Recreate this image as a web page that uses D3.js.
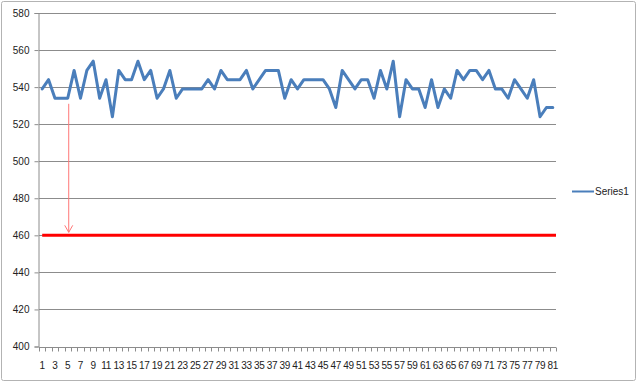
<!DOCTYPE html>
<html>
<head>
<meta charset="utf-8">
<script src="https://cdn.jsdelivr.net/npm/d3@7"></script>
<style>
  html, body { margin: 0; padding: 0; background: #fff; }
  svg { display: block; font-family: "Liberation Sans", Arial, sans-serif; }
</style>
</head>
<body>
<div id="chart"></div>
<script>
// category labels 1..81
const categories = [
  1, 2, 3, 4, 5, 6, 7, 8, 9, 10, 11, 12, 13, 14, 15, 16, 17, 18, 19, 20,
  21, 22, 23, 24, 25, 26, 27, 28, 29, 30, 31, 32, 33, 34, 35, 36, 37, 38, 39, 40,
  41, 42, 43, 44, 45, 46, 47, 48, 49, 50, 51, 52, 53, 54, 55, 56, 57, 58, 59, 60,
  61, 62, 63, 64, 65, 66, 67, 68, 69, 70, 71, 72, 73, 74, 75, 76, 77, 78, 79, 80, 81
];

// Series1 values
const series1 = [
  539, 544, 534, 534, 534, 549, 534, 549, 554, 534,
  544, 524, 549, 544, 544, 554, 544, 549, 534, 539,
  549, 534, 539, 539, 539, 539, 544, 539, 549, 544,
  544, 544, 549, 539, 544, 549, 549, 549, 534, 544,
  539, 544, 544, 544, 544, 539, 529, 549, 544, 539,
  544, 544, 534, 549, 539, 554, 524, 544, 539, 539,
  529, 544, 529, 539, 534, 549, 544, 549, 549, 544,
  549, 539, 539, 534, 544, 539, 534, 544, 524, 529, 529
];

const yTicks = [400, 420, 440, 460, 480, 500, 520, 540, 560, 580];

// red annotation: limit line and arrow
const limitValue = 460;
const arrowCategory = 5;
const arrowFrom = 531;

const width = 640, height = 384;
const margin = { left: 39, right: 84, top: 13, bottom: 37.5 };

const svg = d3.select('#chart').append('svg')
  .attr('width', width)
  .attr('height', height);

// chart area border
svg.append('rect')
  .attr('x', 1.5).attr('y', 1.5)
  .attr('width', 634).attr('height', 379)
  .attr('rx', 2)
  .attr('fill', '#fff')
  .attr('stroke', '#b3b3b3');

const x = d3.scaleBand()
  .domain(categories)
  .range([margin.left, width - margin.right]);

const y = d3.scaleLinear()
  .domain([400, 580])
  .range([height - margin.bottom, margin.top]);

const cx = d => x(d) + x.bandwidth() / 2;

// gridlines
svg.append('g')
  .selectAll('line')
  .data(yTicks.slice(1))
  .join('line')
  .attr('x1', margin.left)
  .attr('x2', width - margin.right)
  .attr('y1', d => Math.round(y(d)) + 0.5)
  .attr('y2', d => Math.round(y(d)) + 0.5)
  .attr('stroke', '#8c8c8c');

// y axis
const yAxis = svg.append('g')
  .attr('transform', `translate(${margin.left - 0.5},0)`)
  .call(d3.axisLeft(y).tickValues(yTicks).tickSize(4).tickPadding(5));
yAxis.select('.domain').attr('stroke', '#8c8c8c');
yAxis.selectAll('.tick line').attr('stroke', '#8c8c8c');
yAxis.selectAll('text').attr('font-size', 10).attr('fill', '#222');

// x axis: ticks between categories, labels on odd categories
const xBase = Math.round(y(400)) + 0.5;
const xg = svg.append('g');
xg.append('line')
  .attr('x1', margin.left).attr('x2', width - margin.right)
  .attr('y1', xBase).attr('y2', xBase)
  .attr('stroke', '#8c8c8c');
xg.selectAll('line.tk')
  .data(categories.concat([null]))
  .join('line')
  .attr('class', 'tk')
  .attr('x1', (d, i) => Math.round(margin.left + i * x.step()) + 0.5)
  .attr('x2', (d, i) => Math.round(margin.left + i * x.step()) + 0.5)
  .attr('y1', xBase).attr('y2', xBase + 4)
  .attr('stroke', '#8c8c8c');
xg.selectAll('text')
  .data(categories.filter(d => d % 2 === 1))
  .join('text')
  .attr('x', d => cx(d))
  .attr('y', xBase + 21)
  .attr('text-anchor', 'middle')
  .attr('font-size', 10)
  .attr('letter-spacing', -0.3)
  .attr('fill', '#222')
  .text(d => d);

// Series1 line
const line = d3.line()
  .x((d, i) => cx(categories[i]))
  .y(d => y(d));

svg.append('path')
  .datum(series1)
  .attr('fill', 'none')
  .attr('stroke', '#4a7ebb')
  .attr('stroke-width', 3)
  .attr('stroke-linejoin', 'round')
  .attr('stroke-linecap', 'round')
  .attr('d', line);

// red limit line
svg.append('line')
  .attr('x1', cx(categories[0]))
  .attr('x2', width - margin.right)
  .attr('y1', y(limitValue))
  .attr('y2', y(limitValue))
  .attr('stroke', '#ff0000')
  .attr('stroke-width', 3);

// red arrow
const ax = cx(arrowCategory) + 1;
const ay1 = y(limitValue) - 3;
svg.append('line')
  .attr('x1', ax).attr('x2', ax)
  .attr('y1', y(arrowFrom)).attr('y2', ay1)
  .attr('stroke', '#f77')
  .attr('stroke-width', 1);
svg.append('path')
  .attr('d', `M${ax - 4},${ay1 - 7}L${ax},${ay1}L${ax + 4},${ay1 - 7}`)
  .attr('fill', 'none')
  .attr('stroke', '#f77')
  .attr('stroke-width', 1);

// legend
const lg = svg.append('g').attr('transform', 'translate(572,191.5)');
lg.append('line')
  .attr('x1', 0).attr('x2', 22)
  .attr('stroke', '#4a7ebb')
  .attr('stroke-width', 2);
lg.append('text')
  .attr('x', 23)
  .attr('dy', '0.35em')
  .attr('font-size', 10)
  .attr('fill', '#222')
  .text('Series1');
</script>
</body>
</html>
